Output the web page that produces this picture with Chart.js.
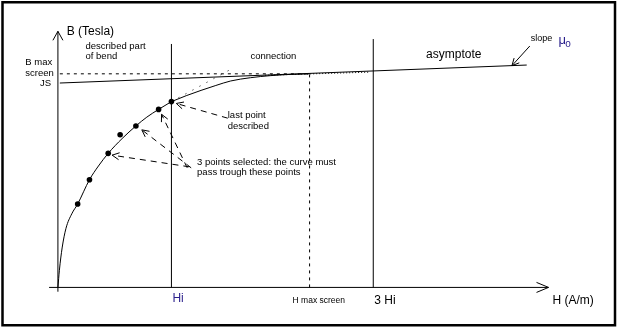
<!DOCTYPE html>
<html>
<head>
<meta charset="utf-8">
<script src="https://cdn.jsdelivr.net/npm/chart.js@4/dist/chart.umd.min.js"></script>
<style>
html,body{margin:0;padding:0;background:#fff;overflow:hidden;}
canvas{display:block;}
</style>
</head>
<body>
<canvas id="c" width="617" height="328"></canvas>
<script>
// ===== DATA (H in units of Hi, B in units of Js) =====
const bendH = [0, 0.013, 0.037, 0.071, 0.122, 0.174, 0.278, 0.357, 0.443, 0.565, 0.687, 0.783, 0.887, 1.0];
const bendB = [0, 0.084, 0.193, 0.289, 0.360, 0.408, 0.527, 0.594, 0.656, 0.728, 0.790, 0.833, 0.871, 0.909];
const connectionH = [1.0, 1.130, 1.261, 1.391, 1.522, 1.696, 1.870, 2.043, 2.217];
const connectionB = [0.909, 0.938, 0.964, 0.988, 1.010, 1.026, 1.036, 1.042, 1.045];
const markerH = [0.174, 0.278, 0.443, 0.548, 0.687, 0.887, 1.0];
const markerB = [0.408, 0.527, 0.656, 0.747, 0.790, 0.871, 0.909];
const extrapH = [1.0, 1.539];
const extrapB = [0.909, 1.072];
const connDotsH = [1.826, 2.739];
const connDotsB = [1.038, 1.053];
const asymptoteH = [0.017, 4.130];
const asymptoteB = [1.0, 1.088];
const HI = 1.0, H_MAX_SCREEN = 2.217, THREE_HI = 2.778;
const B_MAX_SCREEN = 1.045, JS = 1.0;
const hiTop = 1.191, threeHiTop = 1.215;
const tickLabels = ['Hi', 'H max screen', '3 Hi'];
const tickValues = [HI, H_MAX_SCREEN, THREE_HI];
// arrows: [tailH, tailB, tipH, tipB]
const arrowLastPoint = [1.496, 0.828, 1.043, 0.900];
const arrowSel1 = [1.139, 0.585, 0.913, 0.847];
const arrowSel2 = [1.174, 0.585, 0.739, 0.771];
const arrowSel3 = [1.157, 0.590, 0.478, 0.647];
const arrowSlope = [4.157, 1.181, 4.0, 1.085];
const xAxisRange = [-0.078, 4.322];
const yAxisRange = [-0.021, 1.253];

// ===== helpers =====
const pts = (hs, bs) => hs.map((h, i) => ({x: h, y: bs[i]}));
const seg = (a) => [{x: a[0], y: a[1]}, {x: a[2], y: a[3]}];
const INK = '#000';
const NAVY = '#2a1f8c';
function lineDs(data, opts) {
  return Object.assign({data, showLine: true, pointRadius: 0, borderColor: INK, borderWidth: 1,
    backgroundColor: INK, fill: false, tension: 0}, opts || {});
}

const datasets = [
  lineDs(pts(xAxisRange, [0, 0]), {arrow: {len: 12, half: 5}}),
  lineDs([{x: 0, y: yAxisRange[0]}, {x: 0, y: yAxisRange[1]}], {arrow: {len: 9, half: 5}}),
  lineDs([{x: HI, y: 0}, {x: HI, y: hiTop}]),
  lineDs([{x: THREE_HI, y: 0}, {x: THREE_HI, y: threeHiTop}]),
  lineDs([{x: H_MAX_SCREEN, y: 0}, {x: H_MAX_SCREEN, y: B_MAX_SCREEN}], {borderDash: [3, 4]}),
  lineDs([{x: asymptoteH[0], y: B_MAX_SCREEN}, {x: H_MAX_SCREEN, y: B_MAX_SCREEN}], {borderDash: [3, 4]}),
  lineDs(pts(asymptoteH, asymptoteB)),
  lineDs(pts(bendH, bendB), {cubicInterpolationMode: 'monotone'}),
  lineDs(pts(connectionH, connectionB), {cubicInterpolationMode: 'monotone'}),
  lineDs(pts(extrapH, extrapB), {borderDash: [1, 7]}),
  lineDs(pts(connDotsH, connDotsB), {borderDash: [1, 2]}),
  lineDs(seg(arrowLastPoint), {borderDash: [6, 5], arrow: {len: 7, half: 3.5}}),
  lineDs(seg(arrowSel1), {borderDash: [6, 5], arrow: {len: 7, half: 3.5}}),
  lineDs(seg(arrowSel2), {borderDash: [6, 5], arrow: {len: 7, half: 3.5}}),
  lineDs(seg(arrowSel3), {borderDash: [6, 5], arrow: {len: 7, half: 3.5}}),
  lineDs(seg(arrowSlope), {arrow: {len: 7, half: 3.5}}),
  {data: pts(markerH, markerB), showLine: false, pointRadius: 2.8, pointBackgroundColor: INK,
   pointBorderColor: INK, pointBorderWidth: 0}
];

// text labels [text, H, B, fontPx, color]
const textLabels = [
  ['B (Tesla)', 0.078, 1.253, 12, INK],
  ['described part', 0.243, 1.181, 9.5, INK],
  ['of bend', 0.243, 1.129, 9.5, INK],
  ['B max', -0.287, 1.100, 9.5, INK],
  ['screen', -0.287, 1.048, 9.5, INK],
  ['JS', -0.157, 1.0, 9.5, INK],
  ['connection', 1.696, 1.129, 9.5, INK],
  ['asymptote', 3.243, 1.138, 12, INK],
  ['slope', 4.165, 1.220, 9, INK],
  ['\u03bc', 4.409, 1.208, 13, NAVY],
  ['o', 4.470, 1.190, 10, NAVY],
  ['last point', 1.496, 0.842, 9.5, INK],
  ['described', 1.496, 0.790, 9.5, INK],
  ['3 points selected: the curve must', 1.226, 0.611, 9.5, INK],
  ['pass trough these points', 1.226, 0.561, 9.5, INK],
  ['H (A/m)', 4.357, -0.064, 12, INK]
];
const tickStyles = [[12, NAVY, -0.055], [8.5, INK, -0.064], [12, INK, -0.064]];

const decorPlugin = {
  id: 'decor',
  beforeDraw(chart) {
    const ctx = chart.ctx;
    ctx.save();
    ctx.fillStyle = '#fff';
    ctx.fillRect(0, 0, chart.width, chart.height);
    ctx.restore();
  },
  afterDatasetsDraw(chart) {
    const ctx = chart.ctx;
    ctx.save();
    chart.data.datasets.forEach((ds, i) => {
      if (!ds.arrow) return;
      const d = chart.getDatasetMeta(i).data;
      const a = d[d.length - 2], b = d[d.length - 1];
      const dx = b.x - a.x, dy = b.y - a.y, L = Math.hypot(dx, dy);
      const ux = dx / L, uy = dy / L, nx = -uy, ny = ux;
      ctx.strokeStyle = INK; ctx.lineWidth = 1; ctx.setLineDash([]);
      ctx.beginPath();
      ctx.moveTo(b.x - ux * ds.arrow.len + nx * ds.arrow.half, b.y - uy * ds.arrow.len + ny * ds.arrow.half);
      ctx.lineTo(b.x, b.y);
      ctx.lineTo(b.x - ux * ds.arrow.len - nx * ds.arrow.half, b.y - uy * ds.arrow.len - ny * ds.arrow.half);
      ctx.stroke();
    });
    ctx.restore();
  },
  afterDraw(chart) {
    const ctx = chart.ctx, xs = chart.scales.x, ys = chart.scales.y;
    ctx.save();
    ctx.textBaseline = 'middle';
    ctx.textAlign = 'left';
    textLabels.forEach(([t, h, b, size, color]) => {
      ctx.font = size + 'px "Liberation Sans", Arial, sans-serif';
      ctx.fillStyle = color;
      ctx.fillText(t, xs.getPixelForValue(h), ys.getPixelForValue(b));
    });
    tickLabels.forEach((t, i) => {
      const [size, color, b] = tickStyles[i];
      ctx.font = size + 'px "Liberation Sans", Arial, sans-serif';
      ctx.fillStyle = color;
      ctx.fillText(t, xs.getPixelForValue(tickValues[i]) + (i === 1 ? -17 : 1), ys.getPixelForValue(b));
    });
    ctx.strokeStyle = INK;
    ctx.lineWidth = 2.5;
    ctx.strokeRect(2.5, 2.25, chart.width - 4.5, chart.height - 5);
    ctx.restore();
  }
};

new Chart(document.getElementById('c'), {
  type: 'scatter',
  data: {datasets},
  options: {
    responsive: false,
    animation: false,
    events: [],
    layout: {padding: 0},
    plugins: {legend: {display: false}, tooltip: {enabled: false}},
    scales: {
      x: {type: 'linear', display: false, min: -0.475, max: 4.89},
      y: {type: 'linear', display: false, min: -0.179, max: 1.3866}
    }
  },
  plugins: [decorPlugin]
});
</script>
</body>
</html>
